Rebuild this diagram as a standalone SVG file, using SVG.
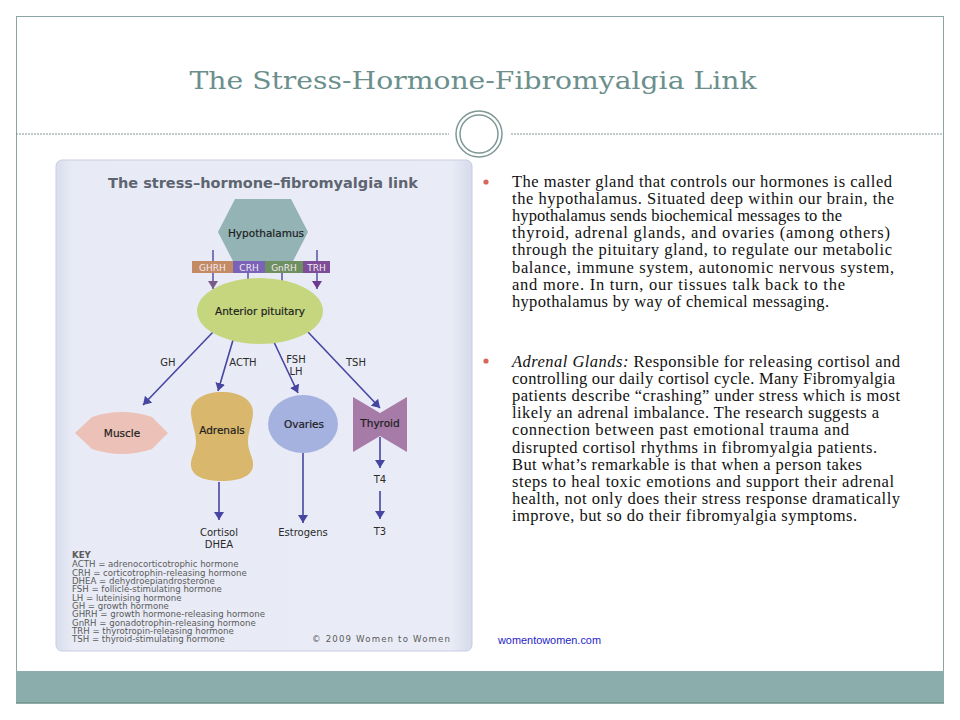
<svg xmlns="http://www.w3.org/2000/svg" width="960" height="720" viewBox="0 0 960 720">
<defs>
<style>
.lbl{font-family:"DejaVu Sans",Verdana,sans-serif;font-size:10px;fill:#2a2a2a;text-anchor:middle}
.node{font-family:"DejaVu Sans",Verdana,sans-serif;font-size:10.5px;fill:#1d1d1d;text-anchor:middle;stroke:#1d1d1d;stroke-width:0.2}
.bar{font-family:"DejaVu Sans",Verdana,sans-serif;font-size:9px;fill:#f2e9f2;text-anchor:middle}
.key{font-family:"DejaVu Sans",Verdana,sans-serif;font-size:8.6px;fill:#5a5a5a}
.body{font-family:"Liberation Serif","Times New Roman",serif;font-size:16.5px;fill:#111}
.conn{stroke:#4646a2;stroke-width:1.6;fill:none;marker-end:url(#ah)}
.bullet{fill:#d4685a}
</style>
<marker id="ah" viewBox="0 0 8 10" refX="8" refY="5" markerWidth="8" markerHeight="10" markerUnits="userSpaceOnUse" orient="auto"><path d="M0,0 L8,5 L0,10 Z" fill="#4646a2"/></marker>
<marker id="ah1" viewBox="0 0 8 10" refX="8" refY="5" markerWidth="8" markerHeight="10" markerUnits="userSpaceOnUse" orient="auto"><path d="M0,0 L8,5 L0,10 Z" fill="#7a5a86"/></marker>
<marker id="ah2" viewBox="0 0 8 10" refX="8" refY="5" markerWidth="8" markerHeight="10" markerUnits="userSpaceOnUse" orient="auto"><path d="M0,0 L8,5 L0,10 Z" fill="#4f45a6"/></marker>
<marker id="ah3" viewBox="0 0 8 10" refX="8" refY="5" markerWidth="8" markerHeight="10" markerUnits="userSpaceOnUse" orient="auto"><path d="M0,0 L8,5 L0,10 Z" fill="#4d6466"/></marker>
<marker id="ah4" viewBox="0 0 8 10" refX="8" refY="5" markerWidth="8" markerHeight="10" markerUnits="userSpaceOnUse" orient="auto"><path d="M0,0 L8,5 L0,10 Z" fill="#6a3a8e"/></marker>
<linearGradient id="panelg" x1="0" y1="0" x2="1" y2="0">
<stop offset="0" stop-color="#d9ddec"/><stop offset="0.04" stop-color="#e8ebf5"/><stop offset="0.95" stop-color="#e9ecf6"/><stop offset="1" stop-color="#d6daea"/>
</linearGradient>
</defs>

<!-- slide -->
<rect x="0" y="0" width="960" height="720" fill="#ffffff"/>
<rect x="16.5" y="16.5" width="927" height="686" fill="#ffffff" stroke="#8aa5a3" stroke-width="1"/>
<rect x="16" y="671" width="928" height="32" fill="#8badab"/>
<line x1="16" y1="703" x2="944" y2="703" stroke="#6f8f8d" stroke-width="1.5"/>

<text x="473" y="89" text-anchor="middle" font-family="'DejaVu Serif','Liberation Serif',serif" font-size="25" fill="#6b8f8c" textLength="567" lengthAdjust="spacingAndGlyphs">The Stress-Hormone-Fibromyalgia Link</text>
<line x1="16" y1="134" x2="449" y2="134" stroke="#7e9896" stroke-width="1" stroke-dasharray="2,1"/>
<line x1="511" y1="134" x2="944" y2="134" stroke="#7e9896" stroke-width="1" stroke-dasharray="2,1"/>
<circle cx="479" cy="134" r="23" fill="#ffffff" stroke="#7e9896" stroke-width="1.5"/>
<circle cx="479" cy="134" r="19" fill="#ffffff" stroke="#7e9896" stroke-width="1.5"/>

<!-- image panel -->
<g id="panel">
<rect x="56" y="160" width="416" height="491" rx="6" fill="url(#panelg)" stroke="#c9cde0" stroke-width="1"/>
<text x="263" y="188" text-anchor="middle" font-family="'DejaVu Sans',Verdana,sans-serif" font-weight="bold" font-size="13.5" fill="#5e6571" textLength="310" lengthAdjust="spacingAndGlyphs">The stress–hormone–fibromyalgia link</text>
</g>

<!-- connectors -->
<g id="connectors">
<line x1="213" y1="250" x2="213" y2="289" stroke="#5a4fa0" stroke-width="1.5" marker-end="url(#ah1)"/>
<line x1="248" y1="250" x2="248" y2="289" stroke="#5a4fa0" stroke-width="1.5" marker-end="url(#ah2)"/>
<line x1="282" y1="250" x2="282" y2="289" stroke="#5a4fa0" stroke-width="1.5" marker-end="url(#ah3)"/>
<line x1="317" y1="250" x2="317" y2="289" stroke="#5a4fa0" stroke-width="1.5" marker-end="url(#ah4)"/>
<line class="conn" x1="213" y1="332" x2="143" y2="405"/>
<line class="conn" x1="233" y1="340" x2="218" y2="391"/>
<line class="conn" x1="273" y1="340" x2="298" y2="393"/>
<line class="conn" x1="308" y1="332" x2="380" y2="408"/>
<line class="conn" x1="219" y1="482" x2="219" y2="520"/>
<line class="conn" x1="303" y1="453" x2="303" y2="523"/>
<line class="conn" x1="380" y1="437" x2="380" y2="468"/>
<line class="conn" x1="380" y1="491" x2="380" y2="519"/>
<text class="lbl" x="168" y="366">GH</text>
<text class="lbl" x="243" y="366">ACTH</text>
<text class="lbl" x="296" y="363">FSH</text>
<text class="lbl" x="296" y="375">LH</text>
<text class="lbl" x="356" y="366">TSH</text>
</g>

<g id="hypothalamus">
<polygon points="235,199 291,199 308,232 291,265 235,265 218,232" fill="#93b3b5"/>
<text class="node" x="266" y="237">Hypothalamus</text>
</g>

<g id="releasing-hormones">
<rect x="192" y="261" width="41" height="12" fill="#c48a63"/>
<rect x="233" y="261" width="32" height="12" fill="#7a62b8"/>
<rect x="265" y="261" width="38" height="12" fill="#6e9060"/>
<rect x="303" y="261" width="27" height="12" fill="#7d4e97"/>
<text class="bar" x="212.5" y="270.5">GHRH</text>
<text class="bar" x="249" y="270.5">CRH</text>
<text class="bar" x="284" y="270.5">GnRH</text>
<text class="bar" x="316.5" y="270.5">TRH</text>
</g>

<g id="anterior-pituitary">
<ellipse cx="260" cy="311" rx="63" ry="33" fill="#c5d67f"/>
<text class="node" x="260" y="315">Anterior pituitary</text>
</g>

<g id="muscle">
<path d="M75,433 L92,417 Q122,407 152,417 L168,433 L152,449 Q122,459 92,449 Z" fill="#ecc1b7"/>
<text class="node" x="122" y="437">Muscle</text>
</g>

<g id="adrenals">
<path d="M222,392 C240,392 254,400 253,414 C252,425 248,432 248,442 C248,452 254,458 253,466 C252,476 240,481 222,481 C204,481 192,476 191,466 C190,458 196,452 196,442 C196,432 192,425 191,414 C190,400 204,392 222,392 Z" fill="#d9b86e"/>
<text class="node" x="222" y="434">Adrenals</text>
</g>

<g id="ovaries">
<ellipse cx="303" cy="424" rx="35" ry="29" fill="#a5b1de"/>
<text class="node" x="304" y="428">Ovaries</text>
</g>

<g id="thyroid">
<polygon points="353,397 380,413 407,397 407,452 380,436 353,452" fill="#a67ba8"/>
<text class="node" x="380" y="427">Thyroid</text>
</g>

<g id="outputs">
<text class="lbl" x="219" y="536">Cortisol</text>
<text class="lbl" x="219" y="548">DHEA</text>
<text class="lbl" x="303" y="536">Estrogens</text>
<text class="lbl" x="380" y="483">T4</text>
<text class="lbl" x="380" y="535">T3</text>
</g>

<g id="key">
<text class="key" x="72" y="558" font-weight="bold">KEY</text>
<text class="key" x="72" y="567.3">ACTH = adrenocorticotrophic hormone</text>
<text class="key" x="72" y="575.6">CRH = corticotrophin-releasing hormone</text>
<text class="key" x="72" y="584">DHEA =  dehydroepiandrosterone</text>
<text class="key" x="72" y="592.3">FSH = follicle-stimulating hormone</text>
<text class="key" x="72" y="600.6">LH = luteinising hormone</text>
<text class="key" x="72" y="609">GH = growth hormone</text>
<text class="key" x="72" y="617.3">GHRH = growth hormone-releasing hormone</text>
<text class="key" x="72" y="625.6">GnRH = gonadotrophin-releasing hormone</text>
<text class="key" x="72" y="634">TRH = thyrotropin-releasing hormone</text>
<text class="key" x="72" y="642.3">TSH = thyroid-stimulating hormone</text>
<text class="key" x="312" y="642.3" textLength="138">© 2009 Women to Women</text>
</g>

<!-- right text -->
<g id="bullets">
<circle class="bullet" cx="486" cy="182" r="2.6"/>
<text class="body" x="512" y="187" textLength="380">The master gland that controls our hormones is called</text>
<text class="body" x="512" y="204.1" textLength="382">the hypothalamus. Situated deep within our brain, the</text>
<text class="body" x="512" y="221.2" textLength="330">hypothalamus sends biochemical messages to the</text>
<text class="body" x="512" y="238.3" textLength="378">thyroid, adrenal glands, and ovaries (among others)</text>
<text class="body" x="512" y="255.4" textLength="380">through the pituitary gland, to regulate our metabolic</text>
<text class="body" x="512" y="272.5" textLength="382">balance, immune system, autonomic nervous system,</text>
<text class="body" x="512" y="289.6" textLength="333">and more. In turn, our tissues talk back to the</text>
<text class="body" x="512" y="306.7" textLength="317">hypothalamus by way of chemical messaging.</text>

<circle class="bullet" cx="486" cy="361" r="2.6"/>
<text class="body" x="512" y="366.5" textLength="388"><tspan font-style="italic">Adrenal Glands:</tspan> Responsible for releasing cortisol and</text>
<text class="body" x="512" y="383.7" textLength="383">controlling our daily cortisol cycle. Many Fibromyalgia</text>
<text class="body" x="512" y="400.9" textLength="388">patients describe “crashing” under stress which is most</text>
<text class="body" x="512" y="418.1" textLength="367">likely an adrenal imbalance. The research suggests a</text>
<text class="body" x="512" y="435.3" textLength="337">connection between past emotional trauma and</text>
<text class="body" x="512" y="452.5" textLength="365">disrupted cortisol rhythms in fibromyalgia patients.</text>
<text class="body" x="512" y="469.7" textLength="350">But what’s remarkable is that when a person takes</text>
<text class="body" x="512" y="486.9" textLength="382">steps to heal toxic emotions and support their adrenal</text>
<text class="body" x="512" y="504.1" textLength="388">health, not only does their stress response dramatically</text>
<text class="body" x="512" y="521.3" textLength="345">improve, but so do their fibromyalgia symptoms.</text>
</g>

<text x="498" y="644" font-family="'Liberation Sans',Arial,sans-serif" font-size="11" fill="#2424c8" textLength="103" lengthAdjust="spacingAndGlyphs">womentowomen.com</text>
</svg>
